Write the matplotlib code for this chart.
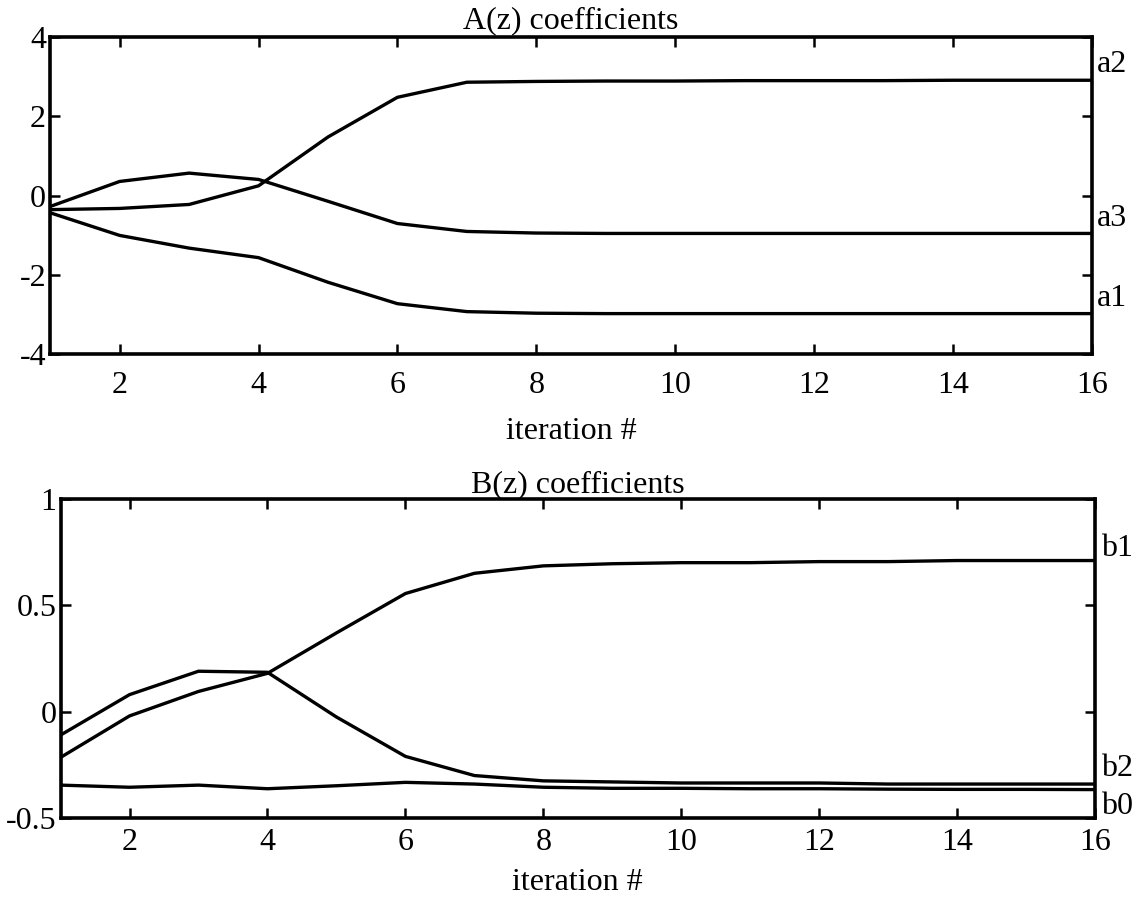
import numpy as np
import matplotlib
matplotlib.use("Agg")
import matplotlib.pyplot as plt

plt.rcParams["font.family"] = ["Liberation Serif", "DejaVu Serif"]
plt.rcParams["axes.unicode_minus"] = False

# iterations de l'algorithme
iterations = list(range(1, 17))

# coefficients de A(z)
a1 = [-0.43, -1.00, -1.32, -1.56, -2.18, -2.72, -2.92, -2.96, -2.97, -2.97, -2.97, -2.97, -2.97, -2.97, -2.97, -2.97]
a2 = [-0.35, -0.32, -0.22, 0.25, 1.48, 2.48, 2.86, 2.88, 2.89, 2.89, 2.90, 2.90, 2.90, 2.91, 2.91, 2.91]
a3 = [-0.27, 0.36, 0.57, 0.41, -0.14, -0.70, -0.90, -0.94, -0.95, -0.95, -0.95, -0.95, -0.95, -0.95, -0.95, -0.95]

# coefficients de B(z)
b0 = [-0.345, -0.355, -0.345, -0.362, -0.348, -0.332, -0.340, -0.355, -0.360, -0.360, -0.362, -0.362, -0.364, -0.365, -0.365, -0.366]
b1 = [-0.215, -0.020, 0.095, 0.180, 0.370, 0.555, 0.650, 0.685, 0.695, 0.700, 0.700, 0.705, 0.705, 0.710, 0.710, 0.710]
b2 = [-0.110, 0.080, 0.190, 0.185, -0.025, -0.210, -0.300, -0.325, -0.330, -0.335, -0.335, -0.335, -0.340, -0.340, -0.340, -0.340]

x_ticks = [2, 4, 6, 8, 10, 12, 14, 16]
a_ticks = [-4, -2, 0, 2, 4]
b_ticks = [-0.5, 0, 0.5, 1]
b_ticklabels = ["-0.5", "0", "0.5", "1"]

FS = 23
LW = 2.4

fig = plt.figure(figsize=(11.42, 9.02), dpi=100)
ax_a = fig.add_axes([0.044, 0.607, 0.912, 0.352])
ax_b = fig.add_axes([0.053, 0.093, 0.906, 0.354])


def style_axes(ax, yticks, ylim, xpad, labelpad):
    ax.set_xlim(1, 16)
    ax.set_ylim(*ylim)
    ax.set_xticks(x_ticks)
    ax.set_yticks(yticks)
    ax.tick_params(direction="in", length=7, width=1.8, labelsize=FS,
                   top=True, right=True)
    ax.tick_params(axis="x", pad=xpad)
    ax.tick_params(axis="y", pad=3)
    for sp in ax.spines.values():
        sp.set_linewidth(2.6)
    ax.set_xlabel("iteration #", fontsize=FS, labelpad=labelpad)


for serie, nom in ((a2, "a2"), (a3, "a3"), (a1, "a1")):
    ax_a.plot(iterations, serie, color="black", linewidth=LW)
    ax_a.annotate(nom, xy=(iterations[-1], serie[-1]), xytext=(4, 11),
                  textcoords="offset points", fontsize=FS, va="center", ha="left",
                  annotation_clip=False)
style_axes(ax_a, a_ticks, (-4, 4), 12, 12)
ax_a.set_title("A(z) coefficients", fontsize=FS, pad=6)

for serie, nom, dy in ((b1, "b1", 9), (b2, "b2", 11), (b0, "b0", -12)):
    ax_b.plot(iterations, serie, color="black", linewidth=LW)
    ax_b.annotate(nom, xy=(iterations[-1], serie[-1]), xytext=(4, dy),
                  textcoords="offset points", fontsize=FS, va="center", ha="left",
                  annotation_clip=False)
style_axes(ax_b, b_ticks, (-0.5, 1), 7, 8)
ax_b.set_yticklabels(b_ticklabels)
ax_b.set_title("B(z) coefficients", fontsize=FS, pad=5)

fig.savefig("out.png", dpi=100)
